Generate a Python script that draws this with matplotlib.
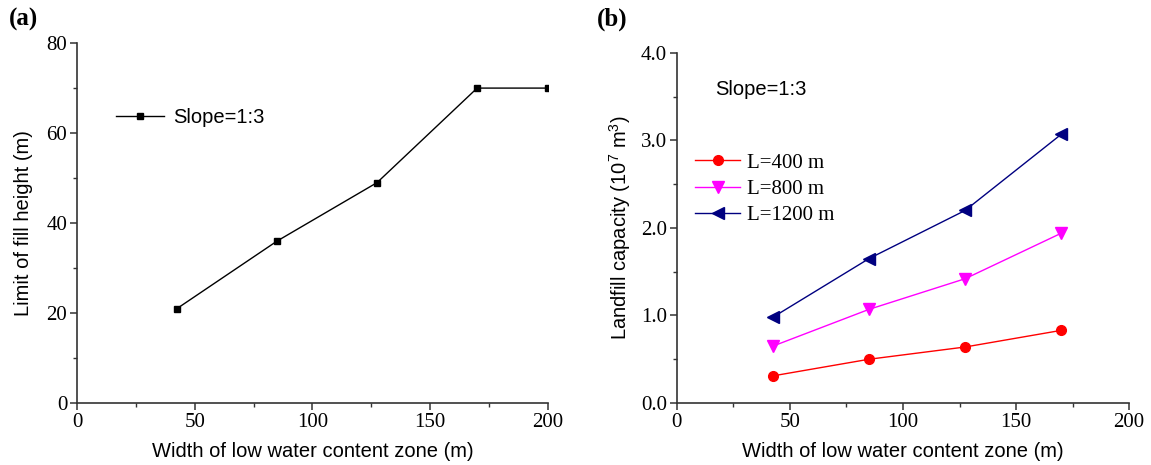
import matplotlib.pyplot as plt
from matplotlib.ticker import MultipleLocator, FormatStrFormatter

# (a) limit of fill height
width_a = [42.5, 85, 127.5, 170, 200]
height_a = [21, 36, 49, 70, 70]

# (b) landfill capacity
width_b = [42.5, 85, 127.5, 170]
cap_400 = [0.31, 0.50, 0.64, 0.83]
cap_800 = [0.65, 1.07, 1.42, 1.94]
cap_1200 = [0.98, 1.65, 2.20, 3.07]

serif = 'Liberation Serif'
sans = 'Liberation Sans'

plt.rcParams['font.family'] = serif
plt.rcParams['mathtext.fontset'] = 'custom'
plt.rcParams['mathtext.rm'] = sans
plt.rcParams['mathtext.default'] = 'regular'

fig = plt.figure(figsize=(11.51, 4.65), dpi=100)
ax1 = fig.add_axes([0.0669, 0.1333, 0.409, 0.774])
ax2 = fig.add_axes([0.588, 0.1333, 0.393, 0.753])


def style(ax, xmaj, ymaj, yminor, yfmt):
    for s in ['top', 'right']:
        ax.spines[s].set_visible(False)
    for s in ['left', 'bottom']:
        ax.spines[s].set_color('#333333')
        ax.spines[s].set_linewidth(1.2)
    ax.xaxis.set_major_locator(MultipleLocator(xmaj))
    ax.xaxis.set_minor_locator(MultipleLocator(xmaj / 2))
    ax.yaxis.set_major_locator(MultipleLocator(ymaj))
    ax.yaxis.set_minor_locator(MultipleLocator(yminor))
    ax.yaxis.set_major_formatter(FormatStrFormatter(yfmt))
    ax.tick_params(which='major', direction='out', length=5, width=1.1,
                   color='#333333', labelsize=15, pad=2)
    ax.tick_params(which='minor', direction='out', length=3, width=1.0,
                   color='#333333')
    ax.set_xlabel('Width of low water content zone (m)', fontfamily=sans,
                  fontsize=14.5, labelpad=7.5)


# panel a
ax1.plot(width_a, height_a, color='black', lw=1, marker='s', ms=5,
         label='Slope=1:3')
ax1.set_xlim(0, 200)
ax1.set_ylim(0, 80)
style(ax1, 50, 20, 10, '%d')
ax1.set_ylabel('Limit of fill height (m)', fontfamily=sans, fontsize=14.5,
               labelpad=10)
ax1.legend(loc='upper left', bbox_to_anchor=(0.044, 0.871), frameon=False,
           prop={'family': sans, 'size': 14.5}, handlelength=2.4,
           handletextpad=0.45)
fig.text(0.008, 0.945, '(a)', fontweight='bold', fontsize=18)

# panel b
ax2.plot(width_b, cap_400, color='red', lw=1, marker='o', ms=7,
         label='L=400 m')
ax2.plot(width_b, cap_800, color='magenta', lw=1, marker='v', ms=8,
         label='L=800 m')
ax2.plot(width_b, cap_1200, color='navy', lw=1, marker='<', ms=8,
         label='L=1200 m')
ax2.set_xlim(0, 200)
ax2.set_ylim(0, 4)
style(ax2, 50, 1, 0.5, '%.1f')
ax2.set_ylabel('Landfill capacity (10$^7$ m$^3$)', fontfamily=sans,
               fontsize=14.5, labelpad=5.5)
ax2.text(0.085, 0.896, 'Slope=1:3', transform=ax2.transAxes,
         fontfamily=sans, fontsize=14.5, va='center')
ax2.legend(loc='upper left', bbox_to_anchor=(-0.002, 0.767), frameon=False,
           prop={'family': serif, 'size': 15}, handlelength=2.2,
           labelspacing=0.32, handletextpad=0.3)
fig.text(0.519, 0.945, '(b)', fontweight='bold', fontsize=18)

fig.savefig('out.png', dpi=100)
